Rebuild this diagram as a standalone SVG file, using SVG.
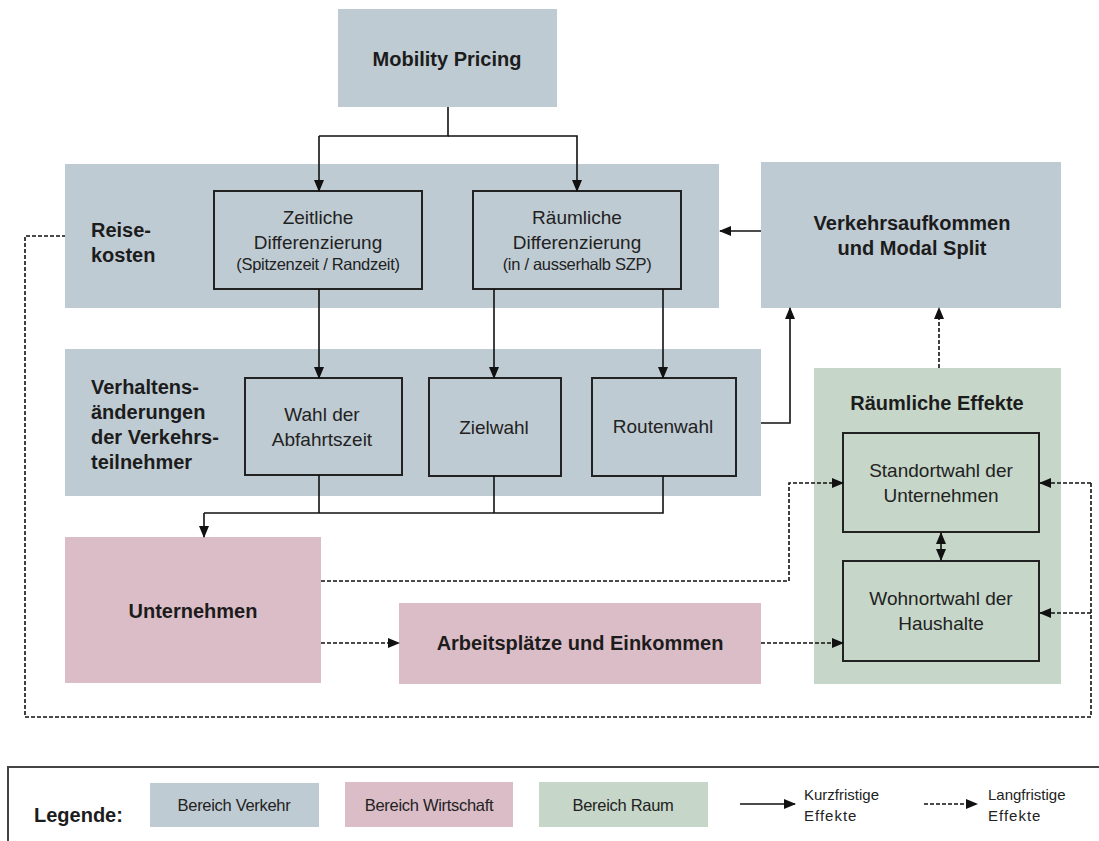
<svg xmlns="http://www.w3.org/2000/svg" width="1099" height="841" viewBox="0 0 1099 841">
<defs>
<marker id="ah" markerUnits="userSpaceOnUse" markerWidth="12" markerHeight="12" viewBox="0 0 12 12" refX="11" refY="6" orient="auto">
<path d="M0,1 L12,6 L0,11 Z" fill="#111"/>
</marker>
</defs>
<style>
.vk{fill:#bfcbd3}
.wi{fill:#dbbdc7}
.ra{fill:#c6d6c8}
.inner{stroke:#222;stroke-width:2}
.b{font-family:"Liberation Sans",Arial,sans-serif;font-weight:bold;fill:#1c1c1c}
.r{font-family:"Liberation Sans",Arial,sans-serif;fill:#222}
.s{fill:none;stroke:#111;stroke-width:1.6}
.d{fill:none;stroke:#111;stroke-width:1.6;stroke-dasharray:4 2}
.m{marker-end:url(#ah)}
</style>
<rect width="1099" height="841" fill="#fff"/>

<g id="mobility-pricing">
<rect class="vk" x="338" y="9" width="219" height="98"/>
<text class="b" x="447" y="66" font-size="20" text-anchor="middle">Mobility Pricing</text>
</g>

<g id="reisekosten">
<rect class="vk" x="65" y="164" width="654" height="144"/>
<text class="b" x="91" y="237" font-size="20">Reise-</text>
<text class="b" x="91" y="262" font-size="20">kosten</text>
</g>

<g id="zeitliche">
<rect class="vk inner" x="214" y="191" width="208" height="98"/>
<text class="r" x="318" y="224" font-size="19" text-anchor="middle">Zeitliche</text>
<text class="r" x="318" y="249" font-size="19" text-anchor="middle">Differenzierung</text>
<text class="r" x="318" y="270" font-size="16.5" text-anchor="middle" letter-spacing="-0.3">(Spitzenzeit / Randzeit)</text>
</g>

<g id="raeumliche">
<rect class="vk inner" x="473" y="191" width="208" height="98"/>
<text class="r" x="577" y="224" font-size="19" text-anchor="middle">Räumliche</text>
<text class="r" x="577" y="249" font-size="19" text-anchor="middle">Differenzierung</text>
<text class="r" x="577" y="270" font-size="16.5" text-anchor="middle" letter-spacing="-0.3">(in / ausserhalb SZP)</text>
</g>

<g id="verkehrsaufkommen">
<rect class="vk" x="761" y="162" width="300" height="146"/>
<text class="b" x="912" y="230" font-size="20" text-anchor="middle">Verkehrsaufkommen</text>
<text class="b" x="912" y="255" font-size="20" text-anchor="middle">und Modal Split</text>
</g>

<g id="verhaltensaenderungen">
<rect class="vk" x="65" y="349" width="696" height="147"/>
<text class="b" x="91" y="394" font-size="20">Verhaltens-</text>
<text class="b" x="91" y="419" font-size="20">änderungen</text>
<text class="b" x="91" y="444" font-size="20">der Verkehrs-</text>
<text class="b" x="91" y="469" font-size="20">teilnehmer</text>
</g>

<g id="wahl-abfahrtszeit">
<rect class="vk inner" x="245" y="378" width="157" height="97"/>
<text class="r" x="322" y="421" font-size="19" text-anchor="middle">Wahl der</text>
<text class="r" x="322" y="446" font-size="19" text-anchor="middle">Abfahrtszeit</text>
</g>

<g id="zielwahl">
<rect class="vk inner" x="429" y="378" width="132" height="98"/>
<text class="r" x="494" y="434" font-size="19" text-anchor="middle">Zielwahl</text>
</g>

<g id="routenwahl">
<rect class="vk inner" x="592" y="378" width="144" height="98"/>
<text class="r" x="663" y="433" font-size="19" text-anchor="middle">Routenwahl</text>
</g>

<g id="unternehmen">
<rect class="wi" x="65" y="537" width="256" height="146"/>
<text class="b" x="193" y="618" font-size="20" text-anchor="middle">Unternehmen</text>
</g>

<g id="arbeitsplaetze">
<rect class="wi" x="399" y="603" width="362" height="81"/>
<text class="b" x="580" y="650" font-size="20" text-anchor="middle">Arbeitsplätze und Einkommen</text>
</g>

<g id="raeumliche-effekte">
<rect class="ra" x="814" y="368" width="247" height="316"/>
<text class="b" x="937" y="410" font-size="20" text-anchor="middle">Räumliche Effekte</text>
</g>

<g id="standortwahl">
<rect class="ra inner" x="843" y="433" width="196" height="99"/>
<text class="r" x="941" y="477" font-size="19" text-anchor="middle">Standortwahl  der</text>
<text class="r" x="941" y="502" font-size="19" text-anchor="middle">Unternehmen</text>
</g>

<g id="wohnortwahl">
<rect class="ra inner" x="843" y="561" width="196" height="100"/>
<text class="r" x="941" y="605" font-size="19" text-anchor="middle">Wohnortwahl  der</text>
<text class="r" x="941" y="630" font-size="19" text-anchor="middle">Haushalte</text>
</g>

<g id="connectors">
<path class="s" d="M448,107 V136 H319"/>
<path class="s m" d="M319,136 V191"/>
<path class="s m" d="M448,136 H577 V191"/>
<path class="s m" d="M761,231 H720"/>
<path class="s m" d="M319,289 V378"/>
<path class="s m" d="M494,289 V378"/>
<path class="s m" d="M663,289 V378"/>
<path class="s m" d="M761,423 H790 V308"/>
<path class="d m" d="M939,368 V308"/>
<path class="s" d="M319,475 V513"/>
<path class="s" d="M494,476 V513"/>
<path class="s" d="M663,476 V513 H204"/>
<path class="s m" d="M204,513 V537"/>
<path class="d m" d="M321,581 H789 V483 H843"/>
<path class="d m" d="M321,643 H399"/>
<path class="d m" d="M761,643 H843"/>
<path class="s m" d="M941,547 V533"/>
<path class="s m" d="M941,547 V560"/>
<path class="d m" d="M1091,483 H1040"/>
<path class="d m" d="M1091,613 H1040"/>
<path class="d" d="M1091,483 V717 H25 V236 H65"/>
</g>

<g id="legende">
<rect x="8" y="767" width="1100" height="100" fill="none" stroke="#444" stroke-width="2"/>
<text class="b" x="34" y="822" font-size="20">Legende:</text>
<rect class="vk" x="150" y="783" width="169" height="44"/>
<text class="r" x="234" y="811" font-size="16.5" text-anchor="middle" letter-spacing="-0.3">Bereich Verkehr</text>
<rect class="wi" x="345" y="782" width="168" height="45"/>
<text class="r" x="429" y="811" font-size="16.5" text-anchor="middle" letter-spacing="-0.3">Bereich Wirtschaft</text>
<rect class="ra" x="539" y="782" width="169" height="45"/>
<text class="r" x="623" y="811" font-size="16.5" text-anchor="middle" letter-spacing="-0.3">Bereich Raum</text>
<path class="s m" d="M740,804 H795"/>
<text class="r" x="804" y="800" font-size="15">Kurzfristige</text>
<text class="r" x="804" y="821" font-size="15" letter-spacing="1">Effekte</text>
<path class="d m" d="M924,804 H977"/>
<text class="r" x="988" y="800" font-size="15">Langfristige</text>
<text class="r" x="988" y="821" font-size="15" letter-spacing="1">Effekte</text>
</g>
</svg>
